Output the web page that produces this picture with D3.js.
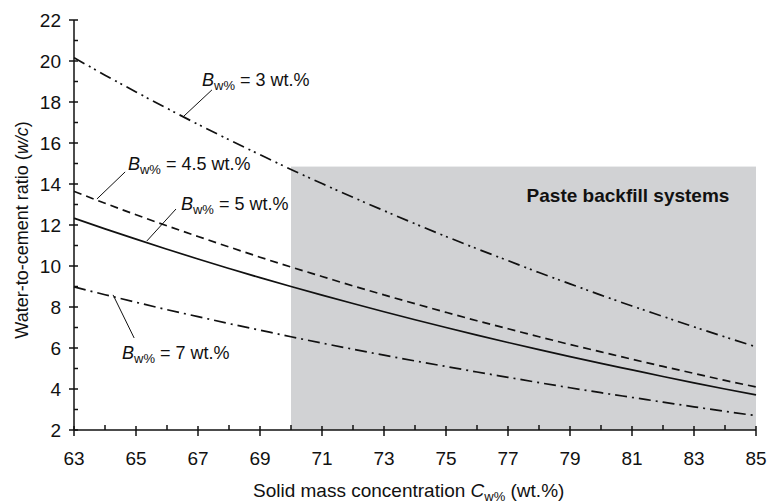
<!DOCTYPE html>
<html><head><meta charset="utf-8">
<script src="https://cdn.jsdelivr.net/npm/d3@7"></script>
<style>body{margin:0;background:#fff}svg{display:block;font-family:"Liberation Sans",Arial,Helvetica,sans-serif}</style>
</head><body><svg id="c" width="778" height="503"></svg>
<script>
const cw = [63,64,65,66,67,68,69,70,71,72,73,74,75,76,77,78,79,80,81,82,83,84,85];
const bw3  = [20.16,19.31,18.49,17.69,16.91,16.16,15.43,14.71,14.02,13.35,12.70,12.06,11.44,10.84,10.26,9.68,9.13,8.58,8.05,7.54,7.03,6.54,6.06];
const bw45 = [13.64,13.06,12.50,11.96,11.44,10.93,10.43,9.95,9.49,9.03,8.59,8.16,7.74,7.33,6.94,6.55,6.17,5.81,5.45,5.10,4.76,4.42,4.10];
const bw5  = [12.33,11.81,11.31,10.82,10.34,9.88,9.43,9.00,8.58,8.17,7.77,7.38,7.00,6.63,6.27,5.92,5.58,5.25,4.93,4.61,4.30,4.00,3.71];
const bw7  = [8.98,8.60,8.23,7.87,7.53,7.19,6.87,6.55,6.24,5.94,5.65,5.37,5.10,4.83,4.57,4.31,4.06,3.82,3.59,3.36,3.13,2.91,2.70];
const seriesNames = ["3","4.5","5","7"];
const xTickLabels = [63,65,67,69,71,73,75,77,79,81,83,85];
const yTickLabels = [2,4,6,8,10,12,14,16,18,20,22];
const pasteZone = {x0:70, x1:85, y0:2, y1:14.85};

const svg = d3.select("#c");
const m = {l:74, r:22, t:20, b:73};
const W = 778, H = 503;
const x = d3.scaleLinear().domain([63,85]).range([m.l, W-m.r]);
const y = d3.scaleLinear().domain([2,22]).range([H-m.b, m.t]);

// shaded region
svg.append("rect")
  .attr("x", x(pasteZone.x0)).attr("y", y(pasteZone.y1))
  .attr("width", x(pasteZone.x1)-x(pasteZone.x0))
  .attr("height", y(pasteZone.y0)-y(pasteZone.y1))
  .attr("fill", "#d1d2d4");

svg.append("text").attr("x", x(77.6)).attr("y", y(13.1))
  .attr("font-size", 19).attr("font-weight", "bold").attr("fill","#111")
  .text("Paste backfill systems");

// lines
const styles = [
  {d:bw3, dash:"12,5,2,4,2,5"},
  {d:bw45, dash:"8,5"},
  {d:bw5, dash:null},
  {d:bw7, dash:"12,5,2,5"}
];
const line = d3.line().x((d,i)=>x(cw[i])).y(d=>y(d)).curve(d3.curveMonotoneX);
styles.forEach(s=>{
  const p = svg.append("path").attr("d", line(s.d)).attr("fill","none")
    .attr("stroke","#111").attr("stroke-width",1.7);
  if (s.dash) p.attr("stroke-dasharray", s.dash);
});

// axes
const axisG = svg.append("g").attr("stroke","#111").attr("stroke-width",1.5);
axisG.append("line").attr("x1",x(63)).attr("x2",x(63)).attr("y1",y(2)).attr("y2",y(22));
axisG.append("line").attr("x1",x(63)).attr("x2",x(85)).attr("y1",y(2)).attr("y2",y(2));
d3.range(2,23,1).forEach(v=>{
  const major = v%2===0;
  axisG.append("line").attr("x1", x(63)-(major?5:0)).attr("x2", x(63)+4)
    .attr("y1", y(v)).attr("y2", y(v));
});
d3.range(63,86,1).forEach(v=>{
  const major = v%2===1;
  axisG.append("line").attr("x1", x(v)).attr("x2", x(v))
    .attr("y1", y(2)-(major?4:5)).attr("y2", y(2)+(major?6:0));
});
yTickLabels.forEach(v=>{
  svg.append("text").attr("x", x(63)-13).attr("y", y(v)+7).attr("text-anchor","end")
    .attr("font-size",19).attr("fill","#111").text(v);
});
xTickLabels.forEach(v=>{
  svg.append("text").attr("x", x(v)).attr("y", y(2)+35).attr("text-anchor","middle")
    .attr("font-size",19).attr("fill","#111").text(v);
});

// axis titles
const xt = svg.append("text").attr("x", 253).attr("y", 497).attr("font-size",19).attr("fill","#111");
xt.append("tspan").text("Solid mass concentration ");
xt.append("tspan").attr("font-style","italic").text("C");
xt.append("tspan").attr("font-size",13).attr("dy",4).text("w%");
xt.append("tspan").attr("dy",-4).text(" (wt.%)");

const yt = svg.append("text").attr("transform","translate(28,230) rotate(-90)")
  .attr("text-anchor","middle").attr("font-size",18).attr("fill","#111");
yt.append("tspan").text("Water-to-cement ratio (");
yt.append("tspan").attr("font-style","italic").text("w/c");
yt.append("tspan").text(")");

// annotations (data coordinates)
const ann = [
  {name:"3", lx:67.13, ly:18.78, a:[67.45,18.59], b:[66.55,17.32]},
  {name:"4.5", lx:64.74, ly:14.68, a:[64.65,14.59], b:[63.74,13.27]},
  {name:"5", lx:66.45, ly:12.73, a:[66.29,12.78], b:[65.35,11.22]},
  {name:"7", lx:64.55, ly:5.46, a:[64.26,8.59], b:[64.94,6.49]}
];
ann.forEach(a=>{
  svg.append("line").attr("x1",x(a.a[0])).attr("y1",y(a.a[1]))
    .attr("x2",x(a.b[0])).attr("y2",y(a.b[1])).attr("stroke","#111").attr("stroke-width",1);
  const t = svg.append("text").attr("x",x(a.lx)).attr("y",y(a.ly)).attr("font-size",18).attr("fill","#111");
  t.append("tspan").attr("font-style","italic").text("B");
  t.append("tspan").attr("font-size",13).attr("dy",4).text("w%");
  t.append("tspan").attr("dy",-4).text(" = " + a.name + " wt.%");
});
</script></body></html>
